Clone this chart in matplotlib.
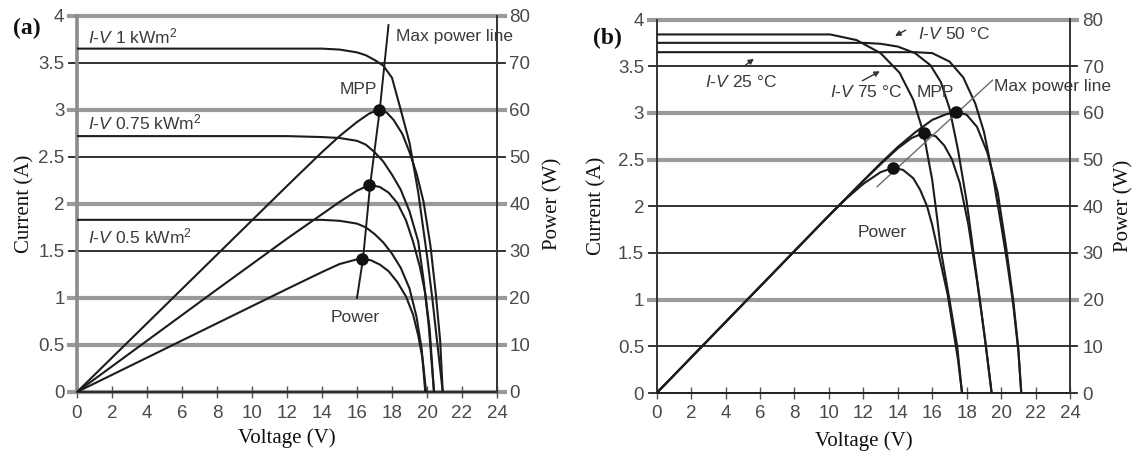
import matplotlib
matplotlib.use('Agg')
import matplotlib.pyplot as plt
from matplotlib import font_manager

# ---------------- data: panel (a) irradiance ----------------
iv1_v = [0, 4, 8, 12, 14, 15, 16, 16.5, 17, 17.5, 18, 18.5, 19, 19.5, 20, 20.3, 20.6, 20.9]
iv1_i = [3.65, 3.65, 3.65, 3.65, 3.65, 3.64, 3.61, 3.58, 3.53, 3.47, 3.34, 3.0, 2.65, 2.12, 1.45, 1.0, 0.5, 0.0]
iv075_v = [0, 4, 8, 12, 14, 15, 16, 16.5, 17, 17.5, 18, 18.5, 19, 19.5, 19.8, 20.1, 20.4]
iv075_i = [2.72, 2.72, 2.72, 2.72, 2.71, 2.70, 2.67, 2.63, 2.55, 2.45, 2.31, 2.15, 1.92, 1.6, 1.2, 0.7, 0.0]
iv05_v = [0, 4, 8, 12, 14, 15, 16, 16.5, 17, 17.5, 18, 18.5, 19, 19.4, 19.7, 19.9]
iv05_i = [1.83, 1.83, 1.83, 1.83, 1.83, 1.82, 1.79, 1.75, 1.68, 1.59, 1.47, 1.32, 1.1, 0.8, 0.45, 0.0]

p1_v = [0, 4, 8, 12, 14, 15, 16, 16.7, 17.26, 17.7, 18.1, 18.6, 19.0, 19.4, 19.8, 20.2, 20.5, 20.75, 20.9]
p1_w = [0, 14.6, 29.2, 43.8, 51.0, 54.4, 57.4, 59.2, 60.0, 59.4, 57.8, 54.8, 51.0, 46.5, 40.5, 31.0, 21.0, 11.0, 0]
p075_v = [0, 4, 8, 12, 14, 15, 16, 16.7, 17.3, 17.8, 18.3, 18.8, 19.2, 19.6, 19.9, 20.15, 20.4]
p075_w = [0, 10.9, 21.8, 32.6, 37.8, 40.4, 42.8, 44.0, 43.6, 42.4, 40.2, 36.5, 32.0, 26.5, 21.0, 13.5, 0]
p05_v = [0, 4, 8, 12, 14, 15, 16, 16.3, 16.8, 17.3, 17.8, 18.3, 18.8, 19.2, 19.5, 19.75, 19.95]
p05_w = [0, 7.3, 14.6, 21.9, 25.5, 27.2, 28.2, 28.3, 28.0, 27.1, 25.7, 23.4, 20.3, 16.5, 12.0, 7.0, 0]

mpp_a_v = [17.26, 16.7, 16.3]
mpp_a_w = [60.0, 44.0, 28.3]
maxline_a_v = [16.0, 16.35, 16.75, 17.3, 17.8]
maxline_a_w = [20.0, 28.5, 44.0, 60.0, 78.0]

# ---------------- data: panel (b) temperature ----------------
iv25_v = [0, 4, 8, 12, 15, 16, 17, 17.8, 18.5, 19.0, 19.5, 20.0, 20.35, 20.7, 21.0, 21.17]
iv25_i = [3.65, 3.65, 3.65, 3.65, 3.65, 3.64, 3.55, 3.38, 3.1, 2.8, 2.35, 1.8, 1.4, 0.95, 0.45, 0.0]
iv50_v = [0, 4, 8, 12, 13, 14, 15, 15.9, 16.5, 17.0, 17.5, 18.0, 18.4, 18.8, 19.15, 19.45]
iv50_i = [3.75, 3.75, 3.75, 3.75, 3.74, 3.71, 3.64, 3.51, 3.33, 3.05, 2.6, 2.05, 1.5, 0.95, 0.45, 0.0]
iv75_v = [0, 4, 8, 10.07, 11.6, 13.0, 14.1, 14.9, 15.5, 16.0, 16.3, 16.5, 17.0, 17.45, 17.73]
iv75_i = [3.84, 3.84, 3.84, 3.84, 3.78, 3.64, 3.43, 3.14, 2.78, 2.28, 1.85, 1.53, 1.0, 0.5, 0.0]

p25_v = [0, 4, 8, 10, 12, 13, 14, 15, 16, 16.8, 17.4, 18.0, 18.6, 19.2, 19.8, 20.3, 20.7, 21.0, 21.17]
p25_w = [0, 15.2, 30.4, 38.0, 45.5, 49.2, 52.7, 55.8, 58.5, 59.7, 60.2, 59.6, 57.0, 51.5, 43.0, 31.0, 20.0, 9.5, 0]
p50_v = [0, 4, 8, 10, 12, 13, 14, 14.8, 15.5, 16.2, 16.7, 17.15, 17.6, 18.1, 18.6, 19.05, 19.45]
p50_w = [0, 15.2, 30.4, 38.0, 45.4, 49.0, 52.4, 54.6, 55.7, 55.0, 53.0, 50.0, 45.0, 36.0, 24.0, 12.0, 0]
p75_v = [0, 4, 8, 10, 11, 12, 13, 13.7, 14.3, 14.9, 15.3, 15.7, 16.0, 16.3, 16.6, 16.9, 17.2, 17.5, 17.73]
p75_w = [0, 15.2, 30.4, 38.0, 41.6, 44.8, 47.3, 48.2, 47.8, 46.0, 43.5, 40.0, 36.0, 31.0, 26.0, 21.0, 14.0, 7.0, 0]

mpp_b_v = [17.4, 15.5, 13.7]
mpp_b_w = [60.2, 55.7, 48.2]
maxline_b_v = [12.8, 19.5]
maxline_b_w = [44.2, 67.0]

x_ticks = list(range(0, 25, 2))
i_ticks = [0, 0.5, 1, 1.5, 2, 2.5, 3, 3.5, 4]
i_tick_labels = ['0', '0.5', '1', '1.5', '2', '2.5', '3', '3.5', '4']
p_ticks = [0, 10, 20, 30, 40, 50, 60, 70, 80]
grid_a_gray = [True, True, True, False, True, False, True, False, True]
grid_b_gray = [False, False, True, False, False, True, True, False, True]

# ---------------- styling ----------------
avail = {f.name for f in font_manager.fontManager.ttflist}
SANS = [f for f in ['Liberation Sans', 'DejaVu Sans'] if f in avail]
SERIF = [f for f in ['Liberation Serif', 'DejaVu Serif'] if f in avail]
plt.rcParams['mathtext.fontset'] = 'custom'
plt.rcParams['mathtext.rm'] = SANS[0]
plt.rcParams['mathtext.it'] = SANS[0] + ':italic'
TICKC = '#4a4a4a'
TXTC = '#3a3a3a'
CURVE = '#1c1c1c'
GRAY = '#9a9a9a'
DARK = '#222222'

W, H = 1138, 459
fig = plt.figure(figsize=(W / 100, H / 100), dpi=100)


def rect(x0, x1, ytop, ybot):
    return [x0 / W, 1 - ybot / H, (x1 - x0) / W, (ybot - ytop) / H]


def setup(ax, gray_flags, left_spine_gray, cur_x, pow_x, volt_y):
    ax.set_xlim(0, 24)
    ax.set_ylim(0, 4)
    for lvl, g in zip(i_ticks, gray_flags):
        ax.axhline(lvl, xmin=-0.018, xmax=1.018, clip_on=False,
                   color=GRAY if g else DARK, lw=3.0 if g else 1.3, zorder=1)
    ax.set_xticks(x_ticks)
    ax.set_xticklabels([str(t) for t in x_ticks])
    ax.set_yticks(i_ticks)
    ax.set_yticklabels(i_tick_labels)
    ax.tick_params(axis='x', direction='inout', length=8, width=1.0, color='#555555',
                   labelsize=13.5, labelcolor=TICKC, pad=5)
    ax.tick_params(axis='y', length=0, labelsize=13.5, labelcolor=TICKC, pad=9)
    for lab in ax.get_xticklabels() + ax.get_yticklabels():
        lab.set_family(SANS)
    ax.spines['top'].set_visible(False)
    ax.spines['right'].set_visible(False)
    ax.spines['bottom'].set_color(DARK)
    ax.spines['bottom'].set_linewidth(1.3)
    if left_spine_gray:
        ax.spines['left'].set_color('#8c8c8c')
        ax.spines['left'].set_linewidth(2.6)
    else:
        ax.spines['left'].set_color('#333333')
        ax.spines['left'].set_linewidth(1.4)
    ax.set_xlabel('Voltage (V)', family=SERIF, fontsize=15, color='#111111')
    ax.set_ylabel('Current (A)', family=SERIF, fontsize=15, color='#111111')
    ax.xaxis.set_label_coords(0.5, volt_y)
    ax.yaxis.set_label_coords(cur_x, 0.5)
    tw = ax.twinx()
    tw.set_ylim(0, 80)
    tw.set_yticks(p_ticks)
    tw.set_yticklabels([str(t) for t in p_ticks])
    tw.tick_params(axis='y', length=0, labelsize=13.5, labelcolor=TICKC, pad=9)
    for lab in tw.get_yticklabels():
        lab.set_family(SANS)
    for s in ['top', 'left', 'bottom']:
        tw.spines[s].set_visible(False)
    tw.spines['right'].set_color('#333333')
    tw.spines['right'].set_linewidth(1.4)
    tw.set_ylabel('Power (W)', family=SERIF, fontsize=15, color='#111111')
    tw.yaxis.set_label_coords(pow_x, 0.5)
    ax.xaxis.label.set_va('center')
    ax.yaxis.label.set_va('center')
    tw.yaxis.label.set_va('center')
    return tw


axA = fig.add_axes(rect(77, 497, 15.7, 392))
twA = setup(axA, grid_a_gray, True, -0.124, 1.133, -0.122)
axB = fig.add_axes(rect(656.7, 1070, 19.5, 393))
twB = setup(axB, grid_b_gray, False, -0.144, 1.131, -0.128)

lw = 1.5
# ---- panel (a) ----
for v, i in [(iv1_v, iv1_i), (iv075_v, iv075_i), (iv05_v, iv05_i)]:
    axA.plot(v, i, color=CURVE, lw=lw, zorder=3, solid_joinstyle='round')
for v, p in [(p1_v, p1_w), (p075_v, p075_w), (p05_v, p05_w)]:
    twA.plot(v, p, color=CURVE, lw=lw, zorder=3, solid_joinstyle='round')
twA.plot(maxline_a_v, maxline_a_w, color=CURVE, lw=1.4, zorder=3)
twA.plot(mpp_a_v, mpp_a_w, 'o', color='#111111', ms=8, zorder=4)

tk = dict(family=SANS, fontsize=12.5, color=TXTC)
axA.text(0.6, 3.78, r'$\mathit{I}$-$\mathit{V}$ 1 kWm$^2$', ha='left', va='center', **tk)
axA.text(0.6, 2.86, r'$\mathit{I}$-$\mathit{V}$ 0.75 kWm$^2$', ha='left', va='center', **tk)
axA.text(0.6, 1.65, r'$\mathit{I}$-$\mathit{V}$ 0.5 kWm$^2$', ha='left', va='center', **tk)
axA.text(18.2, 3.78, 'Max power line', ha='left', va='center', **tk)
axA.text(16.1, 3.22, 'MPP', ha='center', va='center', **tk)
axA.text(15.9, 0.79, 'Power', ha='center', va='center', **tk)
fig.text(13 / W, 1 - 28 / H, '(a)', family=SERIF, fontsize=17, fontweight='bold',
         ha='left', va='center', color='#111111')

# ---- panel (b) ----
for v, i in [(iv25_v, iv25_i), (iv50_v, iv50_i), (iv75_v, iv75_i)]:
    axB.plot(v, i, color=CURVE, lw=lw, zorder=3, solid_joinstyle='round')
for v, p in [(p25_v, p25_w), (p50_v, p50_w), (p75_v, p75_w)]:
    twB.plot(v, p, color=CURVE, lw=lw, zorder=3, solid_joinstyle='round')
twB.plot(maxline_b_v, maxline_b_w, color='#6a6a6a', lw=1.0, zorder=3)
twB.plot(mpp_b_v, mpp_b_w, 'o', color='#111111', ms=8, zorder=4)

axB.text(4.9, 3.33, r'$\mathit{I}$-$\mathit{V}$ 25 °C', ha='center', va='center', **tk)
axB.text(12.15, 3.22, r'$\mathit{I}$-$\mathit{V}$ 75 °C', ha='center', va='center', **tk)
axB.text(15.2, 3.85, r'$\mathit{I}$-$\mathit{V}$ 50 °C', ha='left', va='center', **tk)
axB.text(16.2, 3.22, 'MPP', ha='center', va='center', **tk)
axB.text(19.6, 3.28, 'Max power line', ha='left', va='center', **tk)
axB.text(13.1, 1.72, 'Power', ha='center', va='center', **tk)
arrow = dict(arrowstyle='-|>', color='#333333', lw=1.0, mutation_scale=8)
axB.annotate('', xy=(5.77, 3.60), xytext=(4.95, 3.48), arrowprops=arrow)
axB.annotate('', xy=(13.1, 3.46), xytext=(11.8, 3.33), arrowprops=arrow)
axB.annotate('', xy=(13.7, 3.81), xytext=(14.6, 3.90), arrowprops=arrow)
fig.text(593 / W, 1 - 38 / H, '(b)', family=SERIF, fontsize=17, fontweight='bold',
         ha='left', va='center', color='#111111')

fig.savefig('out.png', dpi=100)
